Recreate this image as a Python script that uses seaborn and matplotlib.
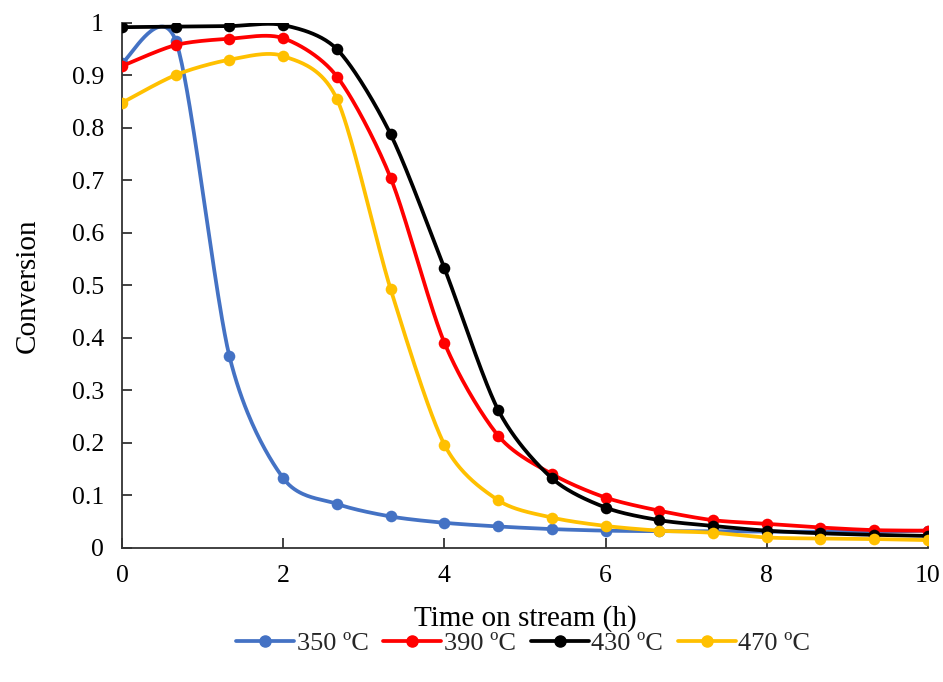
import numpy as np
import pandas as pd
import matplotlib
matplotlib.use("Agg")
import matplotlib.pyplot as plt
from matplotlib.lines import Line2D
import seaborn as sns

# ---- data ----
time_h = [0, 0.667, 1.333, 2, 2.667, 3.333, 4, 4.667, 5.333, 6, 6.667, 7.333, 8, 8.667, 9.333, 10]
conv_350 = [0.924, 0.966, 0.365, 0.133, 0.084, 0.060, 0.048, 0.041, 0.036, 0.033, 0.032, 0.032, 0.031, 0.031, 0.031, 0.033]
conv_390 = [0.918, 0.958, 0.970, 0.971, 0.898, 0.705, 0.391, 0.214, 0.141, 0.096, 0.071, 0.053, 0.046, 0.039, 0.034, 0.033]
conv_430 = [0.992, 0.993, 0.994, 0.996, 0.950, 0.788, 0.533, 0.263, 0.133, 0.077, 0.053, 0.042, 0.033, 0.028, 0.025, 0.023]
conv_470 = [0.848, 0.901, 0.930, 0.937, 0.855, 0.493, 0.197, 0.091, 0.058, 0.042, 0.033, 0.029, 0.020, 0.018, 0.017, 0.015]
series_labels = ["350 ºC", "390 ºC", "430 ºC", "470 ºC"]
colors = ["#4472C4", "#FF0000", "#000000", "#FFC000"]
x_ticks = [0, 2, 4, 6, 8, 10]
y_ticks = [0, 0.1, 0.2, 0.3, 0.4, 0.5, 0.6, 0.7, 0.8, 0.9, 1]
y_tick_labels = ["0", "0.1", "0.2", "0.3", "0.4", "0.5", "0.6", "0.7", "0.8", "0.9", "1"]


def excel_smooth(xs, ys, n=40, k=1.0 / 6.0):
    """Catmull-Rom style Bezier smoothing (like Excel's smoothed line)."""
    P = np.column_stack([xs, ys]).astype(float)
    out = []
    m = len(P)
    for i in range(m - 1):
        p0 = P[i - 1] if i > 0 else P[i]
        p1 = P[i]
        p2 = P[i + 1]
        p3 = P[i + 2] if i + 2 < m else P[i + 1]
        c1 = p1 + (p2 - p0) * k
        c2 = p2 - (p3 - p1) * k
        t = np.linspace(0, 1, n, endpoint=(i == m - 2))[:, None]
        seg = ((1 - t) ** 3) * p1 + 3 * ((1 - t) ** 2) * t * c1 + 3 * (1 - t) * t ** 2 * c2 + t ** 3 * p2
        out.append(seg)
    return np.vstack(out)


sns.set_theme(style="white")
plt.rcParams["font.family"] = ["Liberation Serif", "DejaVu Serif"]

fig = plt.figure(figsize=(9.43, 6.82), dpi=100)
ax = fig.add_axes([0.1294, 0.1965, 0.8546, 0.7698])

all_series = [conv_350, conv_390, conv_430, conv_470]
for i, (ys, lab, col) in enumerate(zip(all_series, series_labels, colors)):
    curve = excel_smooth(time_h, ys, k=0.14)
    df_curve = pd.DataFrame({"x": curve[:, 0], "y": curve[:, 1]})
    sns.lineplot(data=df_curve, x="x", y="y", sort=False, estimator=None, color=col,
                 linewidth=2.7, ax=ax, legend=False, zorder=2 + i)
    df_pts = pd.DataFrame({"x": time_h, "y": ys})
    sns.scatterplot(data=df_pts, x="x", y="y", color=col, s=70, edgecolor=col,
                    linewidth=0, ax=ax, legend=False, zorder=2.5 + i)

ax.set_xlim(0, 10)
ax.set_ylim(0, 1)
ax.set_xticks(x_ticks)
ax.set_xticklabels([str(v) for v in x_ticks])
ax.set_yticks(y_ticks)
ax.set_yticklabels(y_tick_labels)
ax.tick_params(axis="both", direction="in", length=7, width=1.3, color="#333333",
               labelsize=18.5, labelcolor="black")
ax.tick_params(axis="x", pad=12)
ax.tick_params(axis="y", pad=13)
ax.tick_params(bottom=True, left=True)
for side in ["top", "right"]:
    ax.spines[side].set_visible(False)
for side in ["left", "bottom"]:
    ax.spines[side].set_color("#333333")
    ax.spines[side].set_linewidth(1.3)
ax.set_xlabel("Time on stream (h)", fontsize=21, color="black", labelpad=13)
ax.set_ylabel("Conversion", fontsize=21, color="black", labelpad=22)
ax.grid(False)

handles = [Line2D([0], [0], color=c, lw=2.7, marker="o", markersize=8) for c in colors]
fig.legend(handles, series_labels, loc="center", bbox_to_anchor=(0.555, 0.057), ncol=4,
           frameon=False, fontsize=19, handlelength=2.2, handletextpad=0.1, columnspacing=0.55)

fig.savefig("out.png", dpi=100)
